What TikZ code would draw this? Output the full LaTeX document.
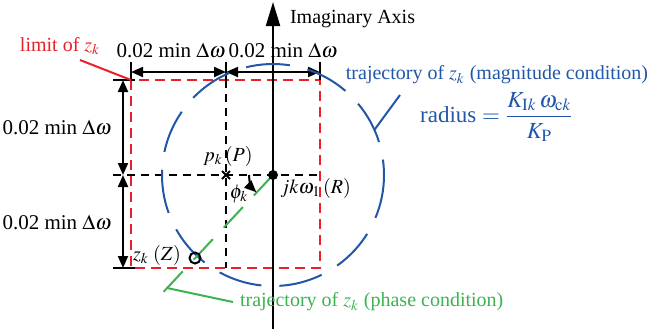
\documentclass[tikz,border=0pt]{standalone}
\usepackage{mathptmx}
\usepackage{fontspec}
\setmainfont{Liberation Serif}
\usetikzlibrary{arrows.meta,calc}
\definecolor{limred}{RGB}{232,32,40}
\definecolor{magblue}{RGB}{33,86,168}
\definecolor{phgreen}{RGB}{60,178,80}
\tikzset{
  dimline/.style={line width=1pt,{Triangle[length=6pt,width=5pt]}-{Triangle[length=6pt,width=5pt]}},
  dimlab/.style={font=\fontsize{10.5}{13}\selectfont},
  guide/.style={line width=0.8pt,dash pattern=on 4pt off 3pt},
  limit/.style={limred,line width=1pt,dash pattern=on 5pt off 3pt},
  magtraj/.style={magblue,line width=1pt,dash pattern=on 22pt off 9pt},
  phtraj/.style={phgreen,line width=1pt,dash pattern=on 14pt off 8pt},
}
\begin{document}
\begin{tikzpicture}[x=0.5pt,y=-0.5pt,font=\fontsize{10}{12}\selectfont]
    \useasboundingbox (0,0) rectangle (668,329);
    \coordinate (P) at (226,175);
    \coordinate (R) at (273,175);
    \coordinate (Z) at (195,258);
    \coordinate (tl) at (131,80);
    \coordinate (br) at (320,268);
    % limit square and guides through P
    \draw[limit] (tl) rectangle (br);
    \draw[guide] (P |- tl) -- (P |- br);
    \draw[guide] (113,175) -- (P -| br);
    % imaginary axis
    \draw[line width=1pt,-{Triangle[length=12pt,width=7pt]}] (273,329) -- (273,2);
    \node[anchor=west] (axlab) at (283,19) {Imaginary Axis};
    % dimensions
    \draw[line width=1pt] (131,62) -- (tl);
    \draw[line width=1pt] (226,62) -- (P |- tl);
    \draw[line width=1pt] (320,62) -- (320,80);
    \draw[line width=1pt] (113,80) -- (135,80);
    \draw[line width=1pt] (113,268) -- (135,268);
    \draw[dimline] (131,72) -- (226,72);
    \draw[dimline] (226,72) -- (320,72);
    \draw[dimline] (123,80) -- (123,175);
    \draw[dimline] (123,175) -- (123,268);
    \node[dimlab] (dtop1) at (171,50) {0.02 min $\Delta\omega$};
    \node[dimlab] (dtop2) at (283,50) {0.02 min $\Delta\omega$};
    \node[dimlab] (dside1) at (57,127) {0.02 min $\Delta\omega$};
    \node[dimlab] (dside2) at (57,222) {0.02 min $\Delta\omega$};
    % limit label
    \node[limred] (limlab) at (60,46) {limit of $z_k$};
    \coordinate (limpt) at (80,60);
    \draw[limred,line width=1pt] (limpt) -- (tl);
    % magnitude condition
    \draw[magtraj] (R) circle[radius=111];
    \node[magblue] (maglab) at (497,75) {trajectory of $z_k$ (magnitude condition)};
    \node[magblue,font=\fontsize{11.5}{13}\selectfont] (radlab) at (497,117)
        {radius $=\displaystyle\frac{K_{\mathrm{I}k}\,\omega_{\mathrm{c}k}}{K_{\mathrm{P}}}$};
    \coordinate (magpt) at (400,95);
    \draw[magblue,line width=1pt] (magpt) -- ($(R)+(-24:111)$);
    % phase condition
    \coordinate (gend) at (154,302);
    \draw[phtraj] (R) -- (gend);
    \node[phgreen,anchor=west] (phlab) at (233,302) {trajectory of $z_k$ (phase condition)};
    \coordinate (phpt) at (167,288);
    \draw[phgreen,line width=1pt] (phlab.west) -- (phpt);
    % angle
    \draw[line width=1pt,-{Triangle[length=6pt,width=5pt]}] ($(R)+(180:24)$) arc[start angle=180,end angle=134,radius=24];
    \node (philab) at (239,194) {$\phi_k$};
    % points
    \fill (R) circle[radius=5];
    \draw[line width=1pt] (Z) circle[radius=5.5];
    \draw[line width=1pt] ($(P)+(-4,-4)$) -- ($(P)+(4,4)$) ($(P)+(-4,4)$) -- ($(P)+(4,-4)$);
    \node (plab) at (228,156) {$p_k\,(P)$};
    \node[anchor=west,inner sep=0pt] (rlab) at (280,188) {$jk\omega_1\,(R)$};
    \node (zlab) at (157,255) {$z_k\;(Z)$};
\end{tikzpicture}
\end{document}
